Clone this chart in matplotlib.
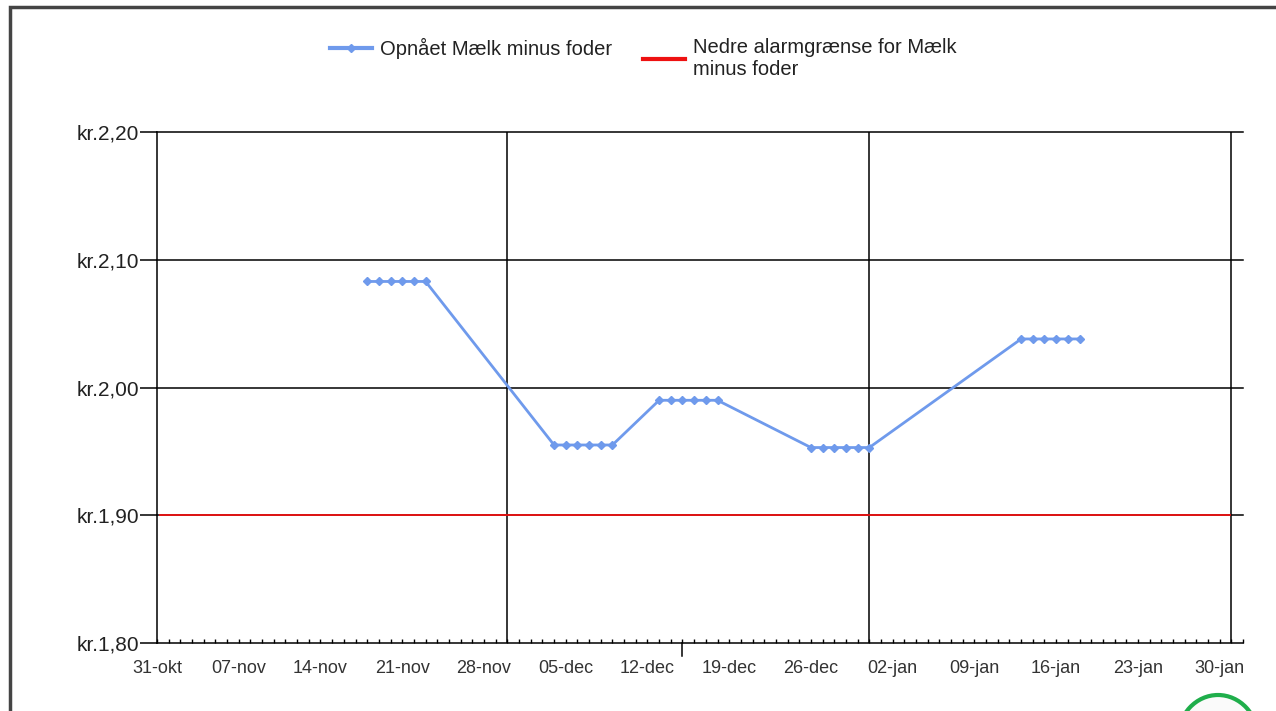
import numpy as np
import matplotlib
matplotlib.use('Agg')
import matplotlib.pyplot as plt
import matplotlib.dates as mdates
from matplotlib.patches import Rectangle, Ellipse
from datetime import date

plt.rcParams['font.family'] = ['Liberation Sans', 'DejaVu Sans']

##### data
start_day = date(2021, 10, 31)
dates = ['2021-11-18', '2021-11-19', '2021-11-20', '2021-11-21', '2021-11-22', '2021-11-23',
         '2021-12-04', '2021-12-05', '2021-12-06', '2021-12-07', '2021-12-08', '2021-12-09',
         '2021-12-13', '2021-12-14', '2021-12-15', '2021-12-16', '2021-12-17', '2021-12-18',
         '2021-12-26', '2021-12-27', '2021-12-28', '2021-12-29', '2021-12-30', '2021-12-31',
         '2022-01-13', '2022-01-14', '2022-01-15', '2022-01-16', '2022-01-17', '2022-01-18']
values = [2.083, 2.083, 2.083, 2.083, 2.083, 2.083,
          1.955, 1.955, 1.955, 1.955, 1.955, 1.955,
          1.990, 1.990, 1.990, 1.990, 1.990, 1.990,
          1.953, 1.953, 1.953, 1.953, 1.953, 1.953,
          2.038, 2.038, 2.038, 2.038, 2.038, 2.038]
alarm_limit = 1.90
y_ticks = [1.80, 1.90, 2.00, 2.10, 2.20]
month_ends = ['2021-11-30', '2021-12-31', '2022-01-31']
mid_tick = '2021-12-15'
series_label = 'Opnået Mælk minus foder'
alarm_label = 'Nedre alarmgrænse for Mælk\nminus foder'
months_dk = {1: 'jan', 2: 'feb', 10: 'okt', 11: 'nov', 12: 'dec'}

x = [np.datetime64(d) for d in dates]
x0 = np.datetime64(start_day)
x1 = x0 + np.timedelta64(93, 'D')

fig = plt.figure(figsize=(12.76, 7.11), dpi=100)
ax = fig.add_axes([157/1276, 1-643/711, (1243-157)/1276, (643-132)/711])

# grid lines (black)
for yt in y_ticks[1:]:
    ax.axhline(yt, color='black', lw=1.1, zorder=1, clip_on=False)
for me in month_ends:
    ax.axvline(np.datetime64(me), color='black', lw=1.1, zorder=1)

red_line = ax.axhline(alarm_limit, xmin=0.003, xmax=0.988, color='#ee1111', lw=1.3, zorder=2)
blue_line, = ax.plot(x, values, color='#6f9aec', lw=2, marker='D', markersize=4.5, zorder=3)

ax.set_xlim(x0, x1)
ax.set_ylim(1.80, 2.20)

for s in ['top', 'right']:
    ax.spines[s].set_visible(False)
for s in ['left', 'bottom']:
    ax.spines[s].set_linewidth(1.1)

ax.set_yticks(y_ticks)
ax.set_yticklabels([('kr.%.2f' % v).replace('.', ',').replace('kr,', 'kr.') for v in y_ticks])
ax.tick_params(axis='y', length=12.2, width=1.1, pad=0.5, labelsize=15, labelcolor='#222222')

week_ticks = [x0 + np.timedelta64(7*i, 'D') for i in range(14)]
ax.set_xticks(week_ticks)
ax.xaxis.set_major_formatter(plt.FuncFormatter(
    lambda v, p: '%02d-%s' % (mdates.num2date(v).day, months_dk[mdates.num2date(v).month])))
ax.tick_params(axis='x', length=0, pad=12, labelsize=13, labelcolor='#333333')
ax.xaxis.remove_overlapping_locs = False
ax.set_xticks([x0 + np.timedelta64(i, 'D') for i in range(94)], minor=True)
ax.tick_params(axis='x', which='minor', direction='in', length=3.2, width=1)
ax.axvline(np.datetime64(mid_tick), ymin=-0.025, ymax=0, color='black', lw=1.1, clip_on=False)

leg_kw = dict(frameon=False, fontsize=14.5, loc='upper left', handlelength=2.1,
              handletextpad=0.4, labelcolor='#222222', borderaxespad=0, borderpad=0)
leg1 = fig.legend([blue_line], [series_label], bbox_to_anchor=(330/1276, 1-38/711), **leg_kw)
leg2 = fig.legend([red_line], [alarm_label], bbox_to_anchor=(643/1276, 1-38/711), **leg_kw)
leg1.legend_handles[0].set_linewidth(3)
leg2.legend_handles[0].set_linewidth(3)

# outer frame and marker circle of the screenshot
fig.patches.append(Rectangle((10/1276, -0.1), 1.2, 1-7/711+0.1, transform=fig.transFigure,
                             fill=False, edgecolor='#444444', lw=2.5))
fig.patches.append(Ellipse((1218/1276, 1-738/711), 80/1276, 86/711, transform=fig.transFigure,
                           facecolor='#fafafa', edgecolor='#1fae4b', lw=3))

fig.savefig('out.png', dpi=100)
